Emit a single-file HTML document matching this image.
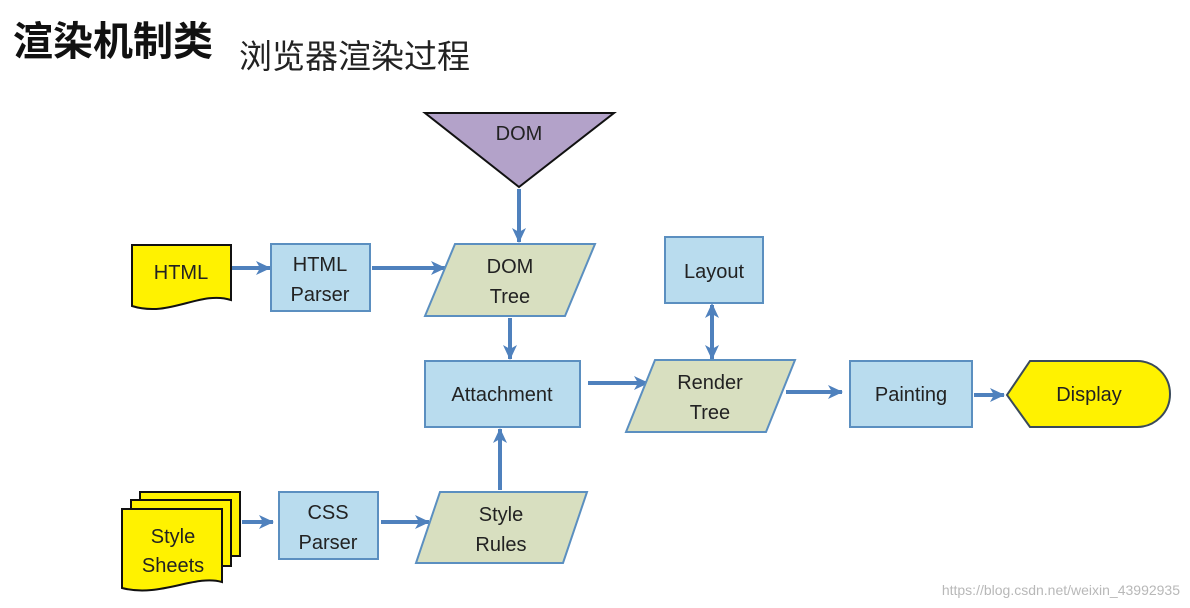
<!DOCTYPE html>
<html><head><meta charset="utf-8"><style>
html,body{margin:0;padding:0;background:#fff;width:1190px;height:608px;overflow:hidden}
svg text{font-family:"Liberation Sans","Noto Sans CJK SC",sans-serif;fill:#222}
</style></head><body>
<svg width="1190" height="608" viewBox="0 0 1190 608" xmlns="http://www.w3.org/2000/svg">
<defs>
<marker id="a" markerWidth="16" markerHeight="16" refX="14" refY="8" orient="auto" markerUnits="userSpaceOnUse"><path d="M0,1 L15,8 L0,15 L4,8 Z" fill="#4f81bd"/></marker>
<marker id="b" markerWidth="16" markerHeight="16" refX="2" refY="8" orient="auto" markerUnits="userSpaceOnUse"><path d="M15,1 L0,8 L15,15 L11,8 Z" fill="#4f81bd"/></marker>
</defs>
<text x="13" y="55" font-size="40" font-weight="bold" style="fill:#111">渲染机制类</text>
<text x="239" y="68" font-size="33" style="fill:#222">浏览器渲染过程</text>

<g stroke="#4f81bd" stroke-width="4" fill="none">
<line x1="519" y1="189" x2="519" y2="242" marker-end="url(#a)"/>
<line x1="232" y1="268" x2="270" y2="268" marker-end="url(#a)"/>
<line x1="372" y1="268" x2="445" y2="268" marker-end="url(#a)"/>
<line x1="510" y1="318" x2="510" y2="359" marker-end="url(#a)"/>
<line x1="588" y1="383" x2="648" y2="383" marker-end="url(#a)"/>
<line x1="712" y1="305" x2="712" y2="359" marker-start="url(#b)" marker-end="url(#a)"/>
<line x1="786" y1="392" x2="842" y2="392" marker-end="url(#a)"/>
<line x1="974" y1="395" x2="1004" y2="395" marker-end="url(#a)"/>
<line x1="242" y1="522" x2="273" y2="522" marker-end="url(#a)"/>
<line x1="381" y1="522" x2="429" y2="522" marker-end="url(#a)"/>
<line x1="500" y1="490" x2="500" y2="429" marker-end="url(#a)"/>
</g>

<path d="M425,113 L614,113 L519,187 Z" fill="#b3a2c9" stroke="#111" stroke-width="2"/>
<text x="519" y="140" font-size="20" text-anchor="middle">DOM</text>

<path d="M132,245 L231,245 L231,300 C200,290 170,318 132,306 Z" fill="#fff200" stroke="#111" stroke-width="2"/>
<text x="181" y="279" font-size="20" text-anchor="middle">HTML</text>

<g fill="#b9dcee" stroke="#5b8fc0" stroke-width="2">
<rect x="271" y="244" width="99" height="67"/>
<rect x="425" y="361" width="155" height="66"/>
<rect x="665" y="237" width="98" height="66"/>
<rect x="850" y="361" width="122" height="66"/>
<rect x="279" y="492" width="99" height="67"/>
</g>
<g fill="#d8dfc0" stroke="#5b8fc0" stroke-width="2">
<path d="M455,244 L595,244 L565,316 L425,316 Z"/>
<path d="M655,360 L795,360 L766,432 L626,432 Z"/>
<path d="M440,492 L587,492 L563,563 L416,563 Z"/>
</g>

<path d="M1030,361 L1137,361 A33,33 0 0 1 1137,427 L1030,427 L1007,395 Z" fill="#fff200" stroke="#3a4a5a" stroke-width="2"/>

<g fill="#fff200" stroke="#111" stroke-width="2">
<path d="M140,492 L240,492 L240,556 L140,556 Z"/>
<path d="M131,500 L231,500 L231,566 L131,566 Z"/>
<path d="M122,509 L222,509 L222,582 C195,574 160,598 122,588 Z"/>
</g>

<g font-size="20" text-anchor="middle">
<text x="320" y="271">HTML</text><text x="320" y="301">Parser</text>
<text x="510" y="273">DOM</text><text x="510" y="303">Tree</text>
<text x="502" y="401">Attachment</text>
<text x="714" y="278">Layout</text>
<text x="710" y="389">Render</text><text x="710" y="419">Tree</text>
<text x="911" y="401">Painting</text>
<text x="1089" y="401">Display</text>
<text x="328" y="519">CSS</text><text x="328" y="549">Parser</text>
<text x="501" y="521">Style</text><text x="501" y="551">Rules</text>
<text x="173" y="543">Style</text><text x="173" y="572">Sheets</text>
</g>
<text x="1180" y="595" font-size="14" text-anchor="end" style="fill:#b8b8b8">https://blog.csdn.net/weixin_43992935</text>
</svg>
</body></html>
